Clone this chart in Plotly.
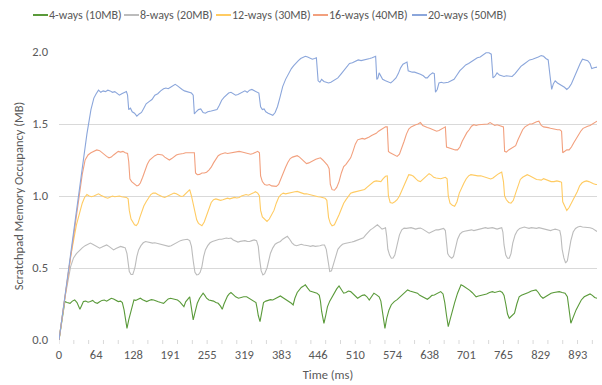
import plotly.graph_objects as go

# Scratchpad occupancy traces (time in ms, occupancy in MB)
ways4_t = [0, 5, 10, 14, 19, 23, 27, 31, 36, 39, 42, 46, 50, 54, 58, 62, 66, 70, 74, 78, 82, 86, 90, 94, 98, 102, 106, 109, 112, 114, 117, 120, 123, 126, 129, 132, 136, 140, 144, 148, 151, 155, 159, 163, 167, 171, 175, 180, 184, 188, 192, 196, 200, 204, 208, 212, 215, 218, 221, 225, 228, 231, 234, 238, 242, 245, 248, 251, 254, 258, 262, 266, 270, 274, 278, 281, 284, 287, 290, 293, 296, 300, 304, 309, 313, 318, 323, 327, 331, 335, 339, 341, 343, 346, 349, 352, 356, 360, 364, 368, 372, 376, 381, 385, 389, 393, 397, 400, 403, 406, 410, 413, 417, 421, 424, 428, 432, 436, 440, 444, 448, 450, 452, 456, 459, 462, 466, 470, 474, 478, 482, 486, 490, 494, 498, 502, 506, 510, 514, 518, 522, 526, 530, 534, 538, 542, 546, 551, 554, 556, 558, 561, 564, 568, 572, 577, 582, 587, 591, 595, 600, 604, 608, 612, 617, 621, 625, 630, 634, 638, 642, 646, 650, 654, 657, 661, 664, 667, 670, 673, 677, 681, 686, 689, 692, 696, 700, 703, 707, 711, 715, 718, 722, 727, 732, 736, 741, 746, 750, 755, 759, 763, 766, 769, 772, 775, 779, 784, 788, 792, 796, 800, 804, 808, 813, 817, 821, 825, 829, 833, 837, 842, 847, 852, 857, 861, 866, 871, 875, 877, 879, 881, 884, 887, 890, 894, 899, 904, 910, 914, 918, 922, 926]
ways4_v = [0, 0.14, 0.267, 0.26, 0.255, 0.27, 0.278, 0.26, 0.213, 0.24, 0.267, 0.27, 0.262, 0.267, 0.275, 0.26, 0.255, 0.265, 0.275, 0.278, 0.27, 0.28, 0.29, 0.285, 0.275, 0.267, 0.27, 0.26, 0.209, 0.15, 0.081, 0.14, 0.186, 0.25, 0.278, 0.275, 0.285, 0.29, 0.28, 0.27, 0.267, 0.275, 0.28, 0.278, 0.27, 0.265, 0.26, 0.255, 0.27, 0.285, 0.29, 0.285, 0.28, 0.278, 0.265, 0.245, 0.232, 0.265, 0.28, 0.30, 0.22, 0.139, 0.19, 0.255, 0.29, 0.31, 0.325, 0.31, 0.29, 0.278, 0.275, 0.27, 0.26, 0.255, 0.235, 0.213, 0.25, 0.285, 0.305, 0.32, 0.33, 0.315, 0.30, 0.29, 0.295, 0.30, 0.30, 0.29, 0.28, 0.268, 0.26, 0.22, 0.17, 0.128, 0.19, 0.26, 0.27, 0.275, 0.28, 0.278, 0.285, 0.295, 0.306, 0.295, 0.285, 0.278, 0.265, 0.255, 0.244, 0.29, 0.33, 0.348, 0.365, 0.375, 0.383, 0.36, 0.34, 0.335, 0.33, 0.325, 0.31, 0.27, 0.20, 0.116, 0.17, 0.23, 0.27, 0.30, 0.33, 0.355, 0.376, 0.35, 0.325, 0.33, 0.34, 0.336, 0.32, 0.305, 0.29, 0.30, 0.31, 0.313, 0.30, 0.278, 0.30, 0.325, 0.315, 0.30, 0.27, 0.22, 0.15, 0.081, 0.15, 0.209, 0.245, 0.267, 0.28, 0.30, 0.313, 0.33, 0.348, 0.34, 0.335, 0.33, 0.325, 0.31, 0.30, 0.29, 0.283, 0.295, 0.31, 0.313, 0.32, 0.33, 0.336, 0.32, 0.26, 0.17, 0.093, 0.14, 0.209, 0.26, 0.325, 0.36, 0.383, 0.375, 0.365, 0.36, 0.345, 0.33, 0.31, 0.30, 0.305, 0.31, 0.313, 0.32, 0.33, 0.336, 0.33, 0.335, 0.34, 0.33, 0.31, 0.25, 0.18, 0.151, 0.17, 0.186, 0.25, 0.30, 0.31, 0.315, 0.325, 0.33, 0.34, 0.345, 0.348, 0.33, 0.305, 0.29, 0.30, 0.315, 0.325, 0.33, 0.335, 0.336, 0.33, 0.325, 0.30, 0.25, 0.18, 0.116, 0.15, 0.185, 0.209, 0.24, 0.278, 0.30, 0.313, 0.32, 0.31, 0.295, 0.29]

ways8_t = [0, 10, 20, 25, 30, 36, 40, 45, 50, 54, 58, 62, 66, 70, 74, 78, 82, 86, 90, 94, 98, 102, 106, 110, 114, 117, 119, 121, 124, 127, 129, 131, 134, 137, 141, 145, 149, 153, 157, 161, 165, 169, 173, 177, 181, 185, 189, 193, 197, 201, 205, 209, 213, 217, 221, 225, 228, 231, 234, 237, 240, 243, 246, 249, 252, 256, 260, 264, 268, 272, 276, 280, 284, 288, 292, 296, 300, 304, 308, 312, 316, 320, 324, 328, 332, 336, 340, 343, 345, 348, 351, 354, 358, 361, 364, 368, 372, 376, 381, 385, 389, 393, 397, 401, 405, 409, 413, 417, 421, 425, 429, 433, 437, 441, 445, 449, 453, 457, 460, 463, 466, 469, 472, 476, 480, 484, 488, 492, 496, 500, 504, 508, 512, 516, 520, 524, 528, 532, 536, 540, 544, 548, 552, 556, 559, 562, 564, 566, 569, 572, 575, 578, 582, 586, 590, 594, 598, 602, 606, 610, 614, 618, 622, 626, 630, 634, 637, 641, 645, 649, 653, 657, 662, 665, 667, 669, 672, 676, 679, 682, 686, 690, 694, 698, 702, 706, 710, 714, 718, 722, 726, 730, 734, 738, 742, 746, 750, 754, 758, 762, 764, 766, 769, 772, 775, 778, 781, 785, 789, 793, 797, 801, 805, 809, 813, 818, 822, 826, 830, 834, 838, 842, 846, 850, 854, 858, 862, 864, 866, 869, 872, 875, 878, 881, 885, 889, 893, 897, 901, 905, 910, 914, 918, 922, 926]
ways8_v = [0, 0.29, 0.51, 0.57, 0.60, 0.626, 0.64, 0.655, 0.665, 0.673, 0.665, 0.655, 0.645, 0.638, 0.645, 0.655, 0.66, 0.65, 0.635, 0.626, 0.635, 0.645, 0.65, 0.645, 0.64, 0.60, 0.52, 0.475, 0.455, 0.455, 0.48, 0.51, 0.58, 0.626, 0.655, 0.675, 0.684, 0.68, 0.675, 0.673, 0.675, 0.67, 0.665, 0.66, 0.655, 0.65, 0.65, 0.655, 0.665, 0.675, 0.684, 0.69, 0.695, 0.70, 0.70, 0.69, 0.65, 0.55, 0.47, 0.452, 0.455, 0.47, 0.51, 0.58, 0.626, 0.655, 0.675, 0.684, 0.69, 0.695, 0.70, 0.70, 0.705, 0.708, 0.705, 0.708, 0.695, 0.685, 0.68, 0.685, 0.69, 0.69, 0.685, 0.684, 0.69, 0.695, 0.69, 0.65, 0.57, 0.48, 0.452, 0.46, 0.50, 0.56, 0.603, 0.64, 0.665, 0.675, 0.684, 0.70, 0.71, 0.72, 0.70, 0.675, 0.66, 0.655, 0.66, 0.665, 0.66, 0.66, 0.655, 0.65, 0.655, 0.65, 0.65, 0.655, 0.66, 0.66, 0.63, 0.55, 0.475, 0.48, 0.52, 0.58, 0.63, 0.65, 0.665, 0.67, 0.672, 0.673, 0.68, 0.685, 0.69, 0.695, 0.70, 0.71, 0.73, 0.75, 0.765, 0.775, 0.79, 0.80, 0.785, 0.77, 0.775, 0.78, 0.72, 0.63, 0.59, 0.568, 0.57, 0.59, 0.66, 0.73, 0.765, 0.777, 0.775, 0.777, 0.78, 0.775, 0.77, 0.775, 0.777, 0.77, 0.76, 0.745, 0.742, 0.75, 0.76, 0.765, 0.765, 0.77, 0.775, 0.76, 0.66, 0.60, 0.58, 0.568, 0.58, 0.64, 0.70, 0.735, 0.75, 0.755, 0.76, 0.765, 0.765, 0.76, 0.765, 0.765, 0.77, 0.775, 0.78, 0.775, 0.777, 0.78, 0.775, 0.77, 0.775, 0.78, 0.75, 0.66, 0.59, 0.568, 0.568, 0.60, 0.673, 0.73, 0.76, 0.775, 0.78, 0.785, 0.78, 0.775, 0.78, 0.777, 0.775, 0.78, 0.775, 0.77, 0.765, 0.765, 0.76, 0.765, 0.77, 0.765, 0.76, 0.72, 0.63, 0.57, 0.535, 0.55, 0.62, 0.69, 0.75, 0.775, 0.784, 0.79, 0.785, 0.785, 0.784, 0.78, 0.775, 0.765, 0.754]

ways12_t = [0, 10, 20, 30, 35, 40, 44, 48, 52, 56, 60, 64, 68, 72, 76, 80, 84, 88, 92, 96, 100, 104, 108, 112, 116, 119, 121, 124, 127, 130, 133, 136, 139, 142, 146, 150, 154, 158, 162, 166, 170, 174, 178, 182, 186, 190, 194, 198, 202, 206, 210, 214, 218, 222, 225, 228, 231, 234, 237, 240, 243, 246, 250, 254, 258, 262, 266, 270, 274, 278, 282, 286, 290, 294, 298, 302, 306, 310, 314, 318, 322, 326, 330, 334, 338, 342, 345, 347, 350, 354, 358, 362, 366, 370, 374, 378, 382, 386, 390, 394, 398, 402, 406, 410, 414, 418, 422, 426, 430, 434, 438, 442, 446, 450, 454, 458, 461, 464, 467, 470, 474, 478, 482, 486, 490, 494, 498, 502, 506, 510, 514, 518, 522, 526, 530, 534, 538, 542, 546, 550, 554, 558, 562, 565, 567, 570, 574, 578, 582, 586, 590, 594, 598, 602, 606, 610, 614, 618, 622, 626, 630, 634, 637, 641, 645, 649, 653, 657, 661, 665, 668, 670, 673, 677, 681, 685, 689, 693, 697, 701, 705, 709, 713, 717, 721, 726, 730, 734, 738, 743, 747, 751, 755, 759, 762, 765, 767, 770, 774, 778, 782, 786, 790, 794, 798, 802, 806, 810, 814, 818, 822, 826, 830, 834, 838, 842, 847, 852, 857, 862, 865, 867, 870, 874, 878, 882, 887, 892, 896, 900, 904, 908, 912, 916, 920, 924, 926]
ways12_v = [0, 0.29, 0.58, 0.80, 0.88, 0.95, 0.99, 1.01, 1.00, 0.995, 1.00, 1.01, 1.015, 1.005, 0.995, 0.99, 0.985, 0.995, 1.00, 0.995, 0.997, 1.00, 0.995, 0.993, 0.99, 0.98, 0.90, 0.84, 0.82, 0.80, 0.795, 0.81, 0.85, 0.89, 0.93, 0.96, 0.99, 1.01, 1.02, 1.02, 1.01, 1.00, 0.995, 0.99, 0.997, 1.005, 1.01, 1.02, 1.015, 1.005, 0.997, 1.00, 1.015, 1.035, 1.045, 1.00, 0.95, 0.88, 0.835, 0.81, 0.80, 0.793, 0.82, 0.87, 0.92, 0.955, 0.974, 0.98, 0.975, 0.97, 0.974, 0.98, 0.985, 0.98, 0.985, 0.99, 0.986, 0.99, 1.00, 1.005, 1.01, 1.005, 1.01, 1.02, 1.03, 1.02, 1.00, 0.90, 0.855, 0.835, 0.823, 0.84, 0.87, 0.90, 0.95, 0.99, 1.01, 1.02, 1.015, 1.02, 1.025, 1.03, 1.03, 1.032, 1.025, 1.02, 1.015, 1.015, 1.01, 1.005, 1.00, 1.00, 0.995, 0.993, 0.99, 0.985, 0.97, 0.85, 0.81, 0.793, 0.80, 0.83, 0.87, 0.91, 0.95, 0.975, 1.00, 1.02, 1.025, 1.03, 1.035, 1.04, 1.045, 1.045, 1.06, 1.075, 1.09, 1.10, 1.105, 1.10, 1.10, 1.12, 1.137, 1.14, 1.00, 0.955, 0.95, 0.96, 0.974, 1.00, 1.04, 1.08, 1.12, 1.148, 1.145, 1.137, 1.12, 1.105, 1.10, 1.115, 1.135, 1.15, 1.155, 1.145, 1.13, 1.125, 1.12, 1.12, 1.125, 1.13, 1.12, 1.00, 0.95, 0.935, 0.928, 0.96, 1.02, 1.06, 1.09, 1.12, 1.14, 1.148, 1.145, 1.14, 1.14, 1.14, 1.135, 1.13, 1.125, 1.118, 1.125, 1.14, 1.15, 1.16, 1.166, 1.10, 1.00, 0.974, 0.955, 0.95, 0.97, 1.02, 1.07, 1.115, 1.13, 1.14, 1.148, 1.14, 1.13, 1.12, 1.115, 1.113, 1.11, 1.12, 1.115, 1.105, 1.10, 1.10, 1.105, 1.10, 1.095, 0.96, 0.93, 0.90, 0.92, 0.95, 0.986, 1.03, 1.07, 1.09, 1.10, 1.105, 1.10, 1.09, 1.085, 1.08, 1.08]

ways16_t = [0, 10, 20, 30, 40, 45, 50, 55, 60, 65, 70, 74, 78, 82, 86, 90, 94, 98, 102, 106, 110, 114, 118, 120, 122, 125, 128, 131, 134, 137, 140, 144, 148, 152, 156, 160, 165, 170, 174, 178, 182, 186, 190, 194, 198, 202, 206, 210, 214, 218, 222, 226, 230, 233, 235, 238, 242, 246, 250, 254, 258, 262, 266, 270, 274, 278, 282, 286, 290, 295, 300, 305, 310, 315, 320, 325, 330, 334, 338, 342, 345, 347, 350, 354, 358, 362, 366, 370, 374, 378, 382, 386, 390, 394, 398, 402, 406, 410, 414, 418, 422, 426, 430, 434, 438, 442, 446, 450, 454, 458, 462, 465, 467, 470, 474, 478, 482, 486, 490, 494, 498, 502, 506, 510, 514, 518, 522, 526, 530, 534, 538, 542, 546, 550, 554, 558, 562, 565, 567, 570, 574, 578, 582, 586, 590, 594, 598, 602, 606, 610, 614, 618, 622, 626, 630, 634, 638, 642, 646, 650, 654, 658, 662, 665, 667, 670, 674, 678, 682, 686, 690, 694, 698, 702, 706, 710, 714, 718, 722, 726, 730, 734, 738, 742, 746, 750, 754, 758, 762, 765, 767, 770, 774, 778, 782, 786, 790, 794, 798, 802, 806, 810, 814, 818, 822, 826, 830, 834, 838, 842, 846, 850, 854, 858, 862, 865, 867, 870, 874, 878, 882, 886, 890, 894, 898, 902, 906, 910, 914, 918, 922, 926]
ways16_v = [0, 0.29, 0.58, 0.87, 1.15, 1.25, 1.285, 1.30, 1.31, 1.32, 1.315, 1.30, 1.29, 1.275, 1.265, 1.27, 1.285, 1.30, 1.31, 1.305, 1.31, 1.30, 1.295, 1.24, 1.12, 1.10, 1.09, 1.085, 1.07, 1.075, 1.09, 1.13, 1.18, 1.22, 1.25, 1.265, 1.28, 1.29, 1.29, 1.285, 1.27, 1.26, 1.25, 1.26, 1.275, 1.285, 1.29, 1.29, 1.295, 1.30, 1.30, 1.305, 1.30, 1.30, 1.16, 1.148, 1.15, 1.16, 1.16, 1.165, 1.18, 1.20, 1.23, 1.26, 1.28, 1.29, 1.295, 1.30, 1.295, 1.30, 1.305, 1.31, 1.31, 1.305, 1.30, 1.295, 1.29, 1.295, 1.30, 1.31, 1.30, 1.14, 1.10, 1.08, 1.075, 1.08, 1.07, 1.068, 1.067, 1.08, 1.12, 1.17, 1.20, 1.235, 1.26, 1.27, 1.275, 1.28, 1.27, 1.255, 1.24, 1.225, 1.23, 1.24, 1.25, 1.255, 1.26, 1.265, 1.25, 1.23, 1.215, 1.19, 1.08, 1.044, 1.04, 1.06, 1.10, 1.16, 1.205, 1.22, 1.245, 1.265, 1.31, 1.36, 1.39, 1.395, 1.40, 1.395, 1.40, 1.41, 1.42, 1.427, 1.435, 1.45, 1.46, 1.47, 1.48, 1.48, 1.31, 1.30, 1.29, 1.285, 1.275, 1.29, 1.33, 1.38, 1.43, 1.465, 1.48, 1.49, 1.495, 1.50, 1.51, 1.49, 1.48, 1.475, 1.47, 1.465, 1.46, 1.45, 1.455, 1.465, 1.475, 1.48, 1.34, 1.335, 1.33, 1.325, 1.32, 1.32, 1.34, 1.38, 1.415, 1.44, 1.46, 1.485, 1.495, 1.49, 1.495, 1.495, 1.50, 1.495, 1.50, 1.51, 1.50, 1.49, 1.495, 1.49, 1.485, 1.48, 1.31, 1.305, 1.32, 1.33, 1.335, 1.35, 1.39, 1.43, 1.46, 1.48, 1.49, 1.50, 1.50, 1.51, 1.515, 1.52, 1.49, 1.48, 1.48, 1.475, 1.47, 1.465, 1.465, 1.46, 1.46, 1.45, 1.30, 1.31, 1.32, 1.32, 1.34, 1.37, 1.40, 1.42, 1.45, 1.47, 1.48, 1.485, 1.49, 1.50, 1.51, 1.52]

ways20_t = [0, 10, 20, 30, 40, 48, 55, 60, 64, 68, 72, 76, 80, 84, 88, 92, 96, 100, 104, 108, 112, 116, 118, 120, 123, 126, 130, 134, 138, 142, 146, 150, 155, 160, 165, 170, 175, 180, 184, 188, 192, 196, 200, 204, 208, 212, 216, 220, 224, 228, 231, 233, 236, 240, 244, 248, 252, 256, 262, 268, 272, 276, 280, 284, 288, 292, 296, 300, 304, 308, 312, 316, 320, 324, 328, 332, 336, 340, 344, 347, 350, 353, 356, 360, 364, 368, 372, 376, 380, 385, 390, 395, 400, 404, 408, 412, 416, 420, 424, 428, 432, 436, 440, 443, 446, 449, 452, 456, 460, 464, 468, 472, 476, 480, 485, 490, 495, 500, 505, 510, 515, 520, 525, 530, 535, 539, 542, 545, 547, 549, 551, 554, 557, 562, 567, 571, 575, 580, 584, 588, 592, 596, 599, 601, 604, 608, 612, 617, 622, 627, 631, 634, 638, 643, 646, 648, 651, 654, 658, 662, 666, 670, 675, 680, 685, 690, 695, 700, 705, 710, 715, 720, 725, 730, 735, 740, 744, 747, 750, 754, 758, 762, 766, 770, 775, 780, 785, 790, 795, 800, 805, 810, 815, 820, 825, 830, 834, 838, 842, 845, 848, 851, 854, 858, 862, 866, 870, 874, 878, 882, 887, 892, 897, 901, 905, 910, 914, 917, 921, 926]
ways20_v = [0, 0.30, 0.60, 0.90, 1.19, 1.43, 1.60, 1.68, 1.71, 1.735, 1.72, 1.73, 1.725, 1.735, 1.73, 1.72, 1.725, 1.715, 1.70, 1.71, 1.72, 1.725, 1.70, 1.60, 1.61, 1.585, 1.575, 1.555, 1.57, 1.58, 1.61, 1.64, 1.655, 1.67, 1.70, 1.71, 1.73, 1.745, 1.75, 1.745, 1.755, 1.765, 1.775, 1.765, 1.75, 1.74, 1.73, 1.725, 1.72, 1.715, 1.70, 1.57, 1.585, 1.60, 1.605, 1.58, 1.575, 1.585, 1.59, 1.595, 1.60, 1.63, 1.665, 1.685, 1.70, 1.715, 1.72, 1.71, 1.70, 1.705, 1.715, 1.725, 1.73, 1.72, 1.735, 1.74, 1.73, 1.72, 1.715, 1.62, 1.60, 1.605, 1.585, 1.575, 1.565, 1.56, 1.58, 1.62, 1.68, 1.76, 1.81, 1.85, 1.885, 1.905, 1.925, 1.94, 1.955, 1.965, 1.97, 1.965, 1.955, 1.95, 1.955, 1.96, 1.80, 1.79, 1.81, 1.795, 1.79, 1.785, 1.79, 1.80, 1.81, 1.82, 1.845, 1.87, 1.895, 1.92, 1.925, 1.935, 1.945, 1.94, 1.945, 1.945, 1.955, 1.96, 1.965, 1.97, 1.81, 1.82, 1.855, 1.83, 1.81, 1.80, 1.79, 1.785, 1.80, 1.82, 1.85, 1.89, 1.915, 1.925, 1.93, 1.87, 1.865, 1.86, 1.86, 1.855, 1.845, 1.835, 1.82, 1.82, 1.84, 1.855, 1.85, 1.72, 1.74, 1.785, 1.79, 1.785, 1.785, 1.79, 1.80, 1.81, 1.84, 1.87, 1.89, 1.91, 1.92, 1.935, 1.945, 1.96, 1.965, 1.98, 1.995, 1.995, 1.985, 1.82, 1.83, 1.855, 1.84, 1.835, 1.83, 1.835, 1.83, 1.83, 1.85, 1.875, 1.90, 1.915, 1.93, 1.945, 1.95, 1.955, 1.965, 1.975, 1.97, 1.955, 1.945, 1.84, 1.74, 1.78, 1.80, 1.785, 1.775, 1.77, 1.755, 1.74, 1.755, 1.78, 1.83, 1.88, 1.92, 1.95, 1.945, 1.94, 1.92, 1.885, 1.89, 1.895]

series_names = ["4-ways (10MB)", "8-ways (20MB)", "12-ways (30MB)", "16-ways (40MB)", "20-ways (50MB)"]
series_t = [ways4_t, ways8_t, ways12_t, ways16_t, ways20_t]
series_v = [ways4_v, ways8_v, ways12_v, ways16_v, ways20_v]
colors = ["#5a9a3a", "#bcbcbc", "#ffcb62", "#f2a07e", "#8ba6db"]

x_tick_labels = ["0", "64", "128", "191", "255", "319", "383", "446", "510", "574", "638", "701", "765", "829", "893"]
y_ticks = [0.0, 0.5, 1.0, 1.5, 2.0]

FONT = "Carlito, Calibri, Lato, sans-serif"
TXT = "#595959"
GRID = "#d9d9d9"
FS = 12.5

W, H = 602, 385
ML, MR, MT, MB = 59, 5, 52, 45
PW, PH = W - ML - MR, H - MT - MB
T_MAX = 926

fig = go.Figure()
for name, t, v, c in zip(series_names, series_t, series_v, colors):
    fig.add_trace(go.Scatter(x=t, y=v, mode="lines", name=name,
                             line=dict(color=c, width=1.1), showlegend=False))

# small tick marks along the time axis
tick_step = 25.5
shapes = []
k = 0
while k * tick_step <= T_MAX + 0.1:
    shapes.append(dict(type="line", xref="x", yref="paper",
                       x0=k * tick_step, x1=k * tick_step, y0=0, y1=-4 / PH,
                       line=dict(color=GRID, width=1)))
    k += 1

# legend row across the top
legend_left_px = [33, 124, 216, 313, 412]
legend_y = (H - MB - 15) / PH
annotations = []
for name, c, px in zip(series_names, colors, legend_left_px):
    x0 = (px - ML) / PW
    x1 = (px + 15 - ML) / PW
    shapes.append(dict(type="line", xref="paper", yref="paper",
                       x0=x0, x1=x1, y0=legend_y, y1=legend_y,
                       line=dict(color=c, width=2)))
    annotations.append(dict(xref="paper", yref="paper", x=x1, y=legend_y,
                            text=name, showarrow=False, xanchor="left", yanchor="middle",
                            xshift=-1, font=dict(family=FONT, size=12, color=TXT)))

fig.update_layout(
    width=W, height=H,
    margin=dict(l=ML, r=MR, t=MT, b=MB),
    paper_bgcolor="white", plot_bgcolor="white",
    font=dict(family=FONT, size=FS, color=TXT),
    shapes=shapes, annotations=annotations,
    xaxis=dict(range=[0, T_MAX], tickmode="array",
               tickvals=[float(s) for s in x_tick_labels], ticktext=x_tick_labels,
               ticks="", showgrid=False, zeroline=False, showline=False,
               ticklabelstandoff=5,
               title=dict(text="Time (ms)", standoff=9, font=dict(size=FS, color=TXT)),
               tickfont=dict(size=FS, color=TXT)),
    yaxis=dict(range=[0, 2.0], tickmode="array", tickvals=y_ticks,
               ticktext=[f"{v:.1f}" for v in y_ticks],
               ticks="", showgrid=True, gridcolor=GRID, gridwidth=1,
               zeroline=False, showline=False, ticklabelstandoff=10,
               title=dict(text="Scratchpad Memory Occupancy (MB)", standoff=5,
                          font=dict(size=FS, color=TXT)),
               tickfont=dict(size=FS, color=TXT)),
)

fig.write_html("out.html")
